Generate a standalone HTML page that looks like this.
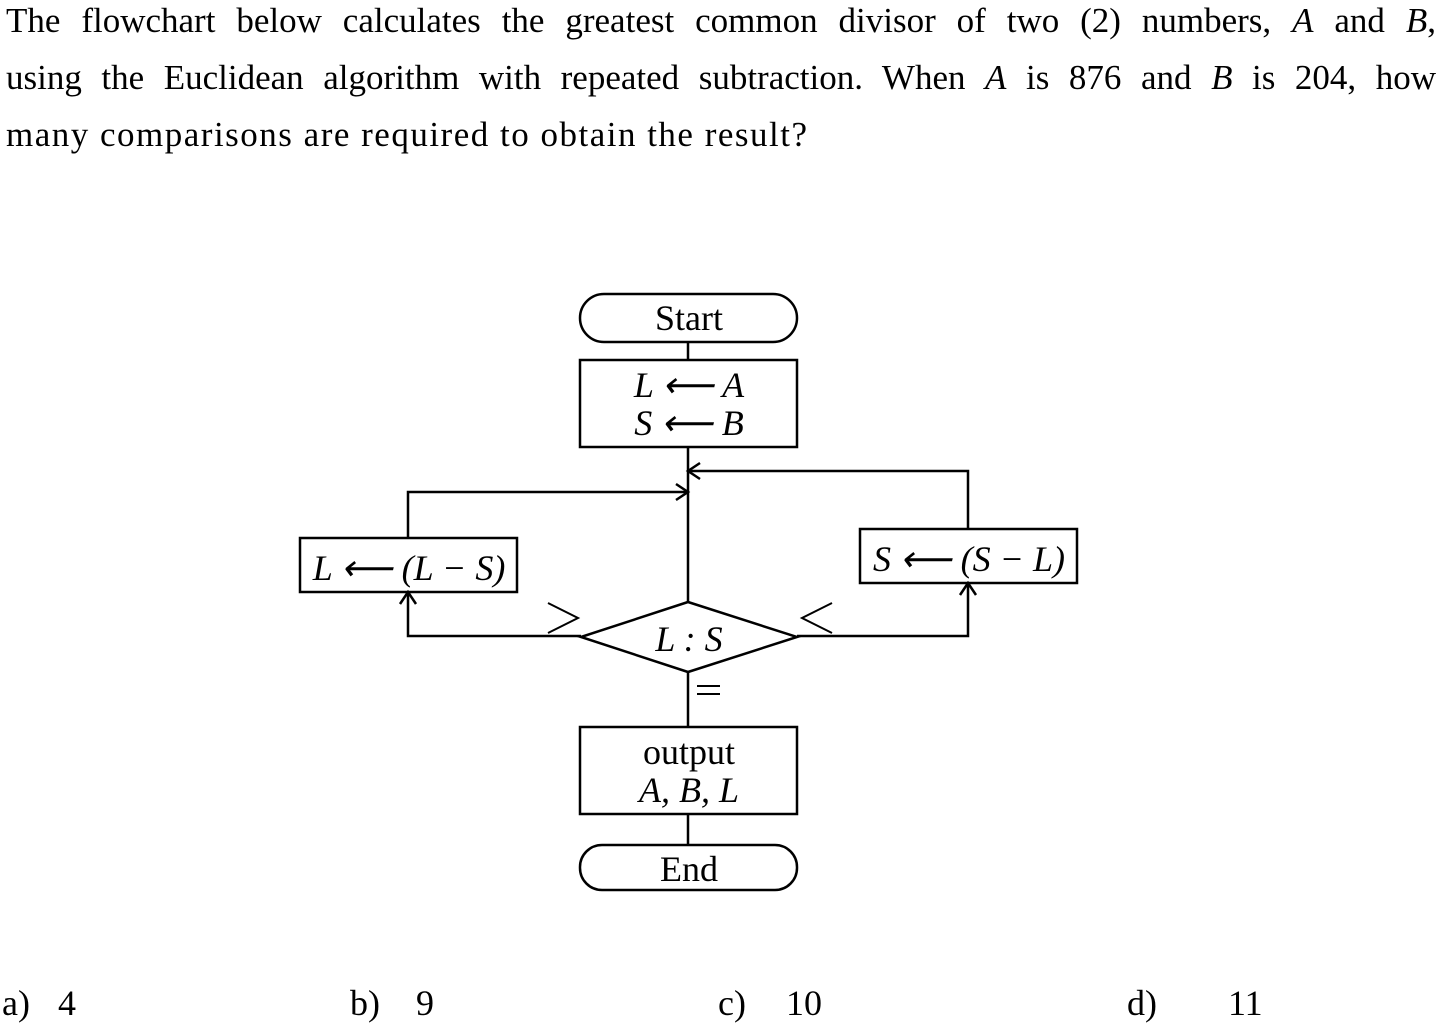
<!DOCTYPE html>
<html><head><meta charset="utf-8"><style>
body{margin:0;width:1438px;height:1024px;background:#fff;overflow:hidden;font-family:"Liberation Serif",serif;color:#000}
#q{position:absolute;left:6px;top:-8px;width:1430px;font-size:35px;line-height:57px}
#q div{text-align:justify;text-align-last:justify;white-space:nowrap}
#q div.last{text-align-last:left;letter-spacing:1.5px}
.ans{position:absolute;top:982px;font-size:36px}
.ans span{position:absolute;top:0}
svg{position:absolute;left:0;top:0}
svg text{font-family:"Liberation Serif",serif;font-size:36px}
</style></head><body>
<div id="q">
<div style="white-space:normal">The flowchart below calculates the greatest common divisor of two (2) numbers, <i>A</i> and <i>B</i>,</div>
<div style="white-space:normal">using the Euclidean algorithm with repeated subtraction. When <i>A</i> is 876 and <i>B</i> is 204, how</div>
<div class="last">many comparisons are required to obtain the result?</div>
</div>
<svg width="1438" height="1024" fill="none" stroke="#000" stroke-width="2.5">
<rect x="580" y="294" width="217" height="48" rx="24"/>
<text x="689" y="330" text-anchor="middle" fill="#000" stroke="none">Start</text>
<line x1="688" y1="342" x2="688" y2="360"/>
<rect x="580" y="360" width="217" height="87"/>
<text x="689" y="397" text-anchor="middle" fill="#000" stroke="none" font-style="italic">L ⟵ A</text>
<text x="689" y="435" text-anchor="middle" fill="#000" stroke="none" font-style="italic">S ⟵ B</text>
<line x1="688" y1="447" x2="688" y2="602"/>
<polyline points="968,529 968,471 688,471"/>
<polyline points="700,463 688,471 700,479"/>
<polyline points="408,538 408,492 688,492"/>
<polyline points="676,484 688,492 676,500"/>
<rect x="300" y="538" width="217" height="54"/>
<text x="409" y="580" text-anchor="middle" fill="#000" stroke="none" font-style="italic">L ⟵ (L − S)</text>
<rect x="860" y="529" width="217" height="54"/>
<text x="969" y="571" text-anchor="middle" fill="#000" stroke="none" font-style="italic">S ⟵ (S − L)</text>
<polygon points="581,637 688,602 797,637 688,672"/>
<text x="689" y="651" text-anchor="middle" fill="#000" stroke="none" font-style="italic">L : S</text>
<polyline points="581,636 408,636 408,592"/>
<polyline points="400,604 408,592 416,604"/>
<polyline points="797,636 968,636 968,583"/>
<polyline points="960,595 968,583 976,595"/>
<polyline points="548,603 578,618 548,633" stroke-width="2"/>
<polyline points="832,603 802,618 832,633" stroke-width="2"/>
<line x1="688" y1="672" x2="688" y2="727"/>
<line x1="697" y1="686" x2="720" y2="686" stroke-width="2"/>
<line x1="697" y1="694" x2="720" y2="694" stroke-width="2"/>
<rect x="580" y="727" width="217" height="87"/>
<text x="689" y="764" text-anchor="middle" fill="#000" stroke="none">output</text>
<text x="689" y="802" text-anchor="middle" fill="#000" stroke="none" font-style="italic">A, B, L</text>
<line x1="688" y1="814" x2="688" y2="845"/>
<rect x="580" y="845" width="217" height="45" rx="22"/>
<text x="689" y="881" text-anchor="middle" fill="#000" stroke="none">End</text>
</svg>
<div class="ans" style="left:2px">a)<span style="left:56px">4</span></div>
<div class="ans" style="left:350px">b)<span style="left:66px">9</span></div>
<div class="ans" style="left:718px">c)<span style="left:68px">10</span></div>
<div class="ans" style="left:1127px">d)<span style="left:101px">11</span></div>
</body></html>
